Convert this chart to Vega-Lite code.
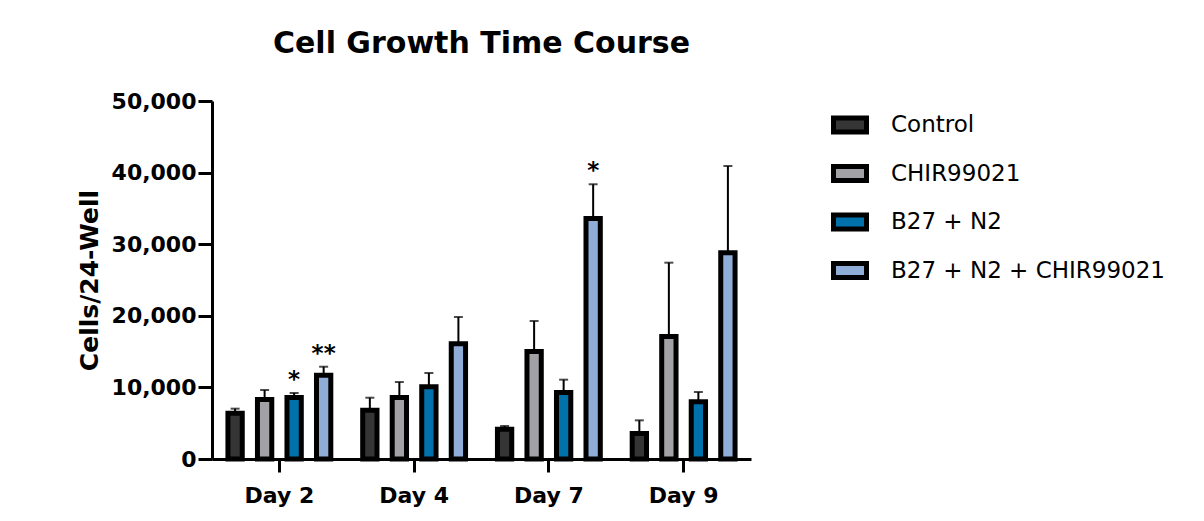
{
  "$schema": "https://vega.github.io/schema/vega-lite/v6.json",
  "width": 539,
  "height": 358,
  "autosize": {"type": "none"},
  "padding": {"left": 212, "top": 101, "right": 453, "bottom": 62},
  "background": "white",
  "title": {
    "text": "Cell Growth Time Course",
    "font": "DejaVu Sans",
    "fontSize": 30,
    "fontWeight": "bold",
    "color": "black",
    "anchor": "middle",
    "frame": "group",
    "baseline": "alphabetic",
    "offset": 7
  },
  "data": {
    "values": [
      {"day": "Day 2", "group": "Control", "mean": 6400, "upper": 7030, "sig": ""},
      {"day": "Day 2", "group": "CHIR99021", "mean": 8300, "upper": 9640, "sig": ""},
      {"day": "Day 2", "group": "B27 + N2", "mean": 8600, "upper": 9220, "sig": "*"},
      {"day": "Day 2", "group": "B27 + N2 + CHIR99021", "mean": 11700, "upper": 12890, "sig": "**"},
      {"day": "Day 4", "group": "Control", "mean": 6800, "upper": 8560, "sig": ""},
      {"day": "Day 4", "group": "CHIR99021", "mean": 8600, "upper": 10750, "sig": ""},
      {"day": "Day 4", "group": "B27 + N2", "mean": 10100, "upper": 12010, "sig": ""},
      {"day": "Day 4", "group": "B27 + N2 + CHIR99021", "mean": 16100, "upper": 19830, "sig": ""},
      {"day": "Day 7", "group": "Control", "mean": 4150, "upper": 4610, "sig": ""},
      {"day": "Day 7", "group": "CHIR99021", "mean": 15000, "upper": 19270, "sig": ""},
      {"day": "Day 7", "group": "B27 + N2", "mean": 9300, "upper": 11080, "sig": ""},
      {"day": "Day 7", "group": "B27 + N2 + CHIR99021", "mean": 33600, "upper": 38370, "sig": "*"},
      {"day": "Day 9", "group": "Control", "mean": 3550, "upper": 5400, "sig": ""},
      {"day": "Day 9", "group": "CHIR99021", "mean": 17100, "upper": 27420, "sig": ""},
      {"day": "Day 9", "group": "B27 + N2", "mean": 8000, "upper": 9360, "sig": ""},
      {"day": "Day 9", "group": "B27 + N2 + CHIR99021", "mean": 28800, "upper": 40920, "sig": ""}
    ]
  },
  "encoding": {
    "x": {
      "field": "day",
      "type": "nominal",
      "sort": ["Day 2", "Day 4", "Day 7", "Day 9"],
      "scale": {"paddingInner": 0, "paddingOuter": 0},
      "axis": {
        "title": null,
        "labelAngle": 0,
        "tickSize": 13,
        "labelPadding": 13,
        "labelFontSize": 22
      }
    },
    "xOffset": {
      "field": "group",
      "type": "nominal",
      "sort": ["Control", "CHIR99021", "B27 + N2", "B27 + N2 + CHIR99021"],
      "scale": {"paddingInner": 0.515, "paddingOuter": 0.54}
    }
  },
  "layer": [
    {
      "mark": {"type": "rule", "color": "black", "strokeWidth": 2},
      "encoding": {
        "y": {"field": "mean", "type": "quantitative"},
        "y2": {"field": "upper"}
      }
    },
    {
      "mark": {"type": "bar", "stroke": "black", "strokeWidth": 5},
      "encoding": {
        "y": {
          "field": "mean",
          "type": "quantitative",
          "scale": {"domain": [0, 50000], "nice": false},
          "axis": {
            "title": "Cells/24-Well",
            "values": [0, 10000, 20000, 30000, 40000, 50000],
            "format": ",d",
            "tickSize": 14,
            "labelPadding": 2,
            "labelFontSize": 22,
            "titleFontSize": 25,
            "titlePadding": 9
          }
        },
        "fill": {
          "field": "group",
          "type": "nominal",
          "sort": ["Control", "CHIR99021", "B27 + N2", "B27 + N2 + CHIR99021"],
          "scale": {
            "domain": ["Control", "CHIR99021", "B27 + N2", "B27 + N2 + CHIR99021"],
            "range": ["#353535", "#a2a2a6", "#0071aa", "#8fadd7"]
          },
          "legend": {
            "title": null,
            "orient": "none",
            "legendX": 619,
            "legendY": 5,
            "padding": 0,
            "symbolType": "M-1,-0.424H1V0.424H-1Z",
            "symbolSize": 1089,
            "symbolStrokeColor": "black",
            "symbolStrokeWidth": 5,
            "symbolOpacity": 1,
            "labelFont": "DejaVu Sans",
            "labelFontSize": 23,
            "labelColor": "black",
            "labelLimit": 0,
            "labelOffset": 22,
            "rowPadding": 12.5
          }
        }
      }
    },
    {
      "mark": {"type": "tick", "orient": "horizontal", "color": "black", "size": 9, "thickness": 2},
      "encoding": {
        "y": {"field": "upper", "type": "quantitative"}
      }
    },
    {
      "mark": {"type": "text", "color": "black", "font": "DejaVu Sans", "fontSize": 23, "fontWeight": "bold", "baseline": "alphabetic", "dy": -6},
      "encoding": {
        "y": {"field": "upper", "type": "quantitative"},
        "text": {"field": "sig"}
      }
    }
  ],
  "config": {
    "view": {"stroke": null},
    "font": "DejaVu Sans",
    "axis": {
      "grid": false,
      "domainColor": "black",
      "domainWidth": 3,
      "tickColor": "black",
      "tickWidth": 3,
      "labelColor": "black",
      "labelFont": "DejaVu Sans",
      "labelFontWeight": "bold",
      "titleFont": "DejaVu Sans",
      "titleFontWeight": "bold",
      "titleColor": "black"
    }
  }
}
